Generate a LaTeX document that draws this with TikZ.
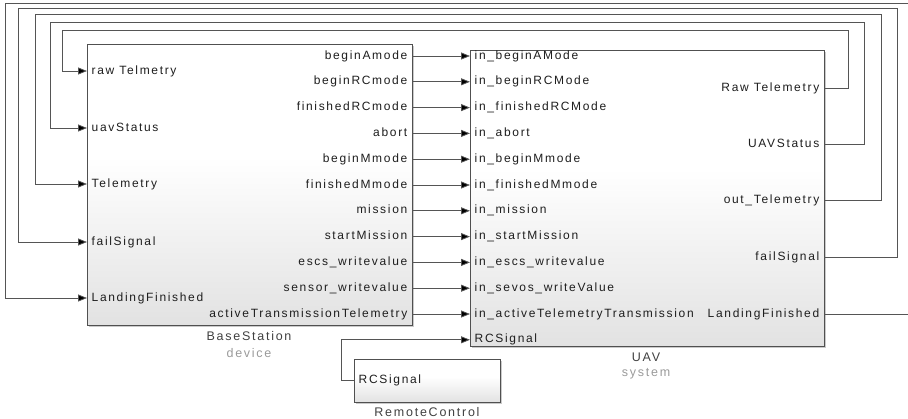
\documentclass[tikz,border=0pt]{standalone}
\usepackage{fontspec}
\setmainfont{Liberation Sans}
\newfontfamily\portfont[LetterSpace=14]{Liberation Sans}
\usetikzlibrary{arrows.meta,shadows}

\definecolor{wirecol}{HTML}{555555}
\definecolor{edgecol}{HTML}{505050}
\definecolor{fillbot}{HTML}{E2E2E2}
\definecolor{txtcol}{HTML}{1E1E1E}
\definecolor{subcol}{HTML}{9A9A9A}

% block fill: white in the upper part, fading to light grey at the bottom
\pgfdeclareverticalshading{blockshade}{100bp}{
  color(0bp)=(fillbot); color(25bp)=(fillbot); color(55bp)=(white); color(100bp)=(white)}

\tikzset{
  block/.style={draw=edgecol, line width=1.1pt, inner sep=0pt, anchor=north west,
    shading=blockshade,
    drop shadow={shadow xshift=1.5pt, shadow yshift=-1.5pt, opacity=0.35, fill=black!60}},
  wire/.style={draw=wirecol, line width=0.8pt},
  feed/.style={wire, -{Triangle[length=9pt,width=7pt,fill=black]}},
  portlbl/.style={font=\portfont\fontsize{12}{14}\selectfont, text=txtcol, inner sep=0pt,
    text height=8.6pt, text depth=2.6pt},
  inlbl/.style={portlbl, anchor=west, xshift=4.5pt},
  outlbl/.style={portlbl, anchor=east, xshift=-4.5pt},
  namelbl/.style={font=\portfont\fontsize{12.5}{14}\selectfont, text=txtcol!85, inner sep=0pt},
  kindlbl/.style={font=\portfont\fontsize{12.5}{14}\selectfont, text=subcol, inner sep=0pt}
}

\begin{document}
\begin{tikzpicture}[x=1pt,y=-1pt]
\useasboundingbox (0,0) rectangle (908,418);

% blocks
\node[block, minimum width=325pt, minimum height=281pt] (bs) at (87,44) {};
\node[block, minimum width=354pt, minimum height=296pt] (uav) at (470,50) {};
\node[block, minimum width=146pt, minimum height=43pt] (rc) at (354,359) {};

% block captions
\node[namelbl] (bsname) at (249,336) {BaseStation};
\node[kindlbl] (bskind) at (249,353) {device};
\node[namelbl] (uavname) at (646,357) {UAV};
\node[kindlbl] (uavkind) at (646,374) {system};
\node[namelbl] (rcname) at (427,412) {RemoteControl};

% UAV inputs
\foreach \k/\i in {
  0/in\_beginAMode,
  1/in\_beginRCMode,
  2/in\_finishedRCMode,
  3/in\_abort,
  4/in\_beginMmode,
  5/in\_finishedMmode,
  6/in\_mission,
  7/in\_startMission,
  8/in\_escs\_writevalue,
  9/in\_sevos\_writeValue,
  10/in\_activeTelemetryTransmission,
  11/RCSignal}{
  \pgfmathsetmacro{\py}{56+25.8*\k}
  \coordinate (ui\k) at (470,\py);
  \node[inlbl] (uil\k) at (ui\k) {\i};
}
% BaseStation outputs, wired straight across to the UAV inputs
\foreach \k/\o in {
  0/beginAmode, 1/beginRCmode, 2/finishedRCmode, 3/abort, 4/beginMmode,
  5/finishedMmode, 6/mission, 7/startMission, 8/escs\_writevalue,
  9/sensor\_writevalue, 10/activeTransmissionTelemetry}{
  \pgfmathsetmacro{\py}{56+25.8*\k}
  \coordinate (bo\k) at (412,\py);
  \node[outlbl] (bol\k) at (bo\k) {\o};
  \draw[feed] (bo\k) -- (ui\k);
}

% BaseStation inputs
\foreach \k/\y/\t in {1/71/raw Telmetry, 2/128/uavStatus, 3/184/Telemetry,
  4/242/failSignal, 5/298/LandingFinished}{
  \coordinate (bi\k) at (87,\y);
  \node[inlbl] (bil\k) at (bi\k) {\t};
}

% UAV outputs
\foreach \k/\y/\t in {1/88/Raw Telemetry, 2/144/UAVStatus, 3/200/out\_Telemetry,
  4/257/failSignal, 5/314/LandingFinished}{
  \coordinate (uo\k) at (824,\y);
  \node[outlbl] (uol\k) at (uo\k) {\t};
}

% feedback wires from UAV back to BaseStation
\draw[feed] (uo1) -| (848,30) -- (62,30) |- (bi1);
\draw[feed] (uo2) -| (864,22) -- (50,22) |- (bi2);
\draw[feed] (uo3) -| (881,14) -- (35,14) |- (bi3);
\draw[feed] (uo4) -| (897,8) -- (18,8) |- (bi4);

% LandingFinished leaves the sheet on the right and re-enters at the top
\coordinate (lfout) at (908,314);
\coordinate (lfin) at (908,3);
\draw[wire] (uo5) -- (lfout);
\draw[feed] (lfin) -- (5,3) |- (bi5);

% RemoteControl (flipped block, output port on its left side)
\coordinate (rco) at (354,380);
\node[inlbl] (rcl) at (rco) {RCSignal};
\draw[feed] (rco) -- (341,380) |- (ui11);
\end{tikzpicture}
\end{document}
